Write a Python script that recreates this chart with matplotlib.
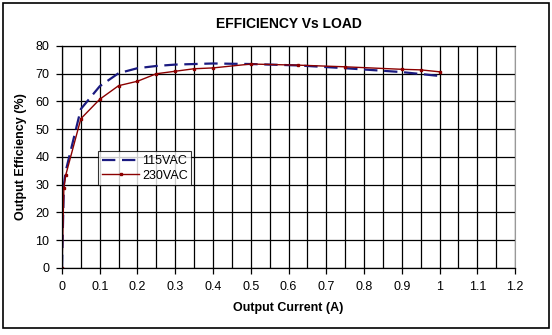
import numpy as np
import matplotlib
matplotlib.use('Agg')
import matplotlib.pyplot as plt
from matplotlib.patches import Rectangle
from matplotlib.ticker import MultipleLocator

plt.rcParams['font.family'] = ['Liberation Sans', 'DejaVu Sans']

# data
x_115 = [0, 0.005, 0.01, 0.05, 0.1, 0.15, 0.2, 0.25, 0.3, 0.4, 0.5, 0.625, 0.75, 0.9, 1.0]
y_115 = [0, 30, 35, 57.3, 65.5, 70.2, 72.0, 72.8, 73.3, 73.7, 73.5, 73.0, 72.0, 70.6, 69.2]

x_230 = [0, 0.005, 0.01, 0.05, 0.1, 0.15, 0.2, 0.25, 0.3, 0.35, 0.4, 0.5, 0.625, 0.75, 0.9, 0.95, 1.0]
y_230 = [0, 29, 33.5, 53.8, 60.8, 65.7, 67.3, 70.0, 70.9, 71.8, 72.1, 73.5, 73.1, 72.5, 71.6, 71.4, 70.7]

x_ticks = [0, 0.1, 0.2, 0.3, 0.4, 0.5, 0.6, 0.7, 0.8, 0.9, 1, 1.1, 1.2]
x_labels = ['0', '0.1', '0.2', '0.3', '0.4', '0.5', '0.6', '0.7', '0.8', '0.9', '1', '1.1', '1.2']

fig = plt.figure(figsize=(5.52, 3.35), dpi=100)
fig.patches.append(Rectangle((0.006, 0.02), 0.988, 0.97, transform=fig.transFigure,
                             fill=False, edgecolor='black', linewidth=1.2))

ax = fig.add_axes([0.1123, 0.2, 0.8207, 0.6627])
ax.set_xlim(0, 1.2)
ax.set_ylim(0, 80)

ax.set_xticks(x_ticks)
ax.set_xticklabels(x_labels)
ax.xaxis.set_minor_locator(MultipleLocator(0.05))
ax.yaxis.set_major_locator(MultipleLocator(10))
ax.grid(True, which='both', color='black', linewidth=0.9)
ax.tick_params(axis='both', which='major', direction='out', length=4, width=0.9, labelsize=9, pad=5)
ax.tick_params(axis='x', which='minor', length=0)
ax.set_axisbelow(True)

for s in ['left', 'bottom', 'top']:
    ax.spines[s].set_color('black')
    ax.spines[s].set_linewidth(0.9)
ax.spines['right'].set_color('#999999')

ax.plot(x_115, y_115, color='#1a1a80', linestyle=(0, (6, 3)), linewidth=1.6, label='115VAC')
ax.plot(x_230, y_230, color='#8b0000', linewidth=1.0, marker='s', markersize=2, label='230VAC')

leg = ax.legend(loc='upper left', bbox_to_anchor=(0.08, 0.525), frameon=True, fancybox=False,
                edgecolor='black', fontsize=9, handlelength=3, handletextpad=0.2,
                borderpad=0.3, labelspacing=0.2, borderaxespad=0)
leg.get_frame().set_linewidth(0.8)

ax.set_title('EFFICIENCY Vs LOAD', fontsize=10, fontweight='bold', pad=13)
ax.set_xlabel('Output Current (A)', fontsize=9, fontweight='bold', labelpad=7)
ax.set_ylabel('Output Efficiency (%)', fontsize=9, fontweight='bold', labelpad=6)

plt.savefig('out.png', dpi=100)
